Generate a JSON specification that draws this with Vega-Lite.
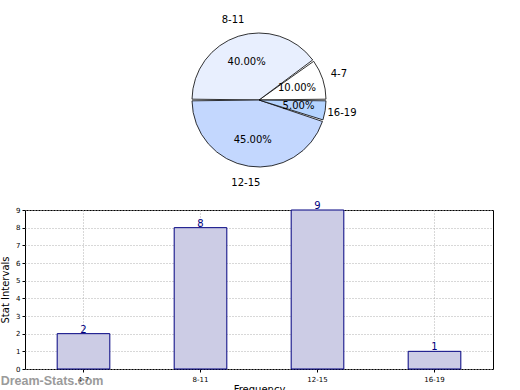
{
  "$schema": "https://vega.github.io/schema/vega-lite/v6.json",
  "padding": 0,
  "spacing": 0,
  "background": "#ffffff",
  "config": {
    "font": "DejaVu Sans",
    "view": {"stroke": null},
    "axis": {"labelFont": "DejaVu Sans", "titleFont": "DejaVu Sans", "labelColor": "#000000", "titleColor": "#000000", "tickColor": "#000000"}
  },
  "datasets": {
    "stats": [
      {"interval": "4-7", "freq": 2, "pct": 0.10, "idx": 1},
      {"interval": "8-11", "freq": 8, "pct": 0.40, "idx": 2},
      {"interval": "12-15", "freq": 9, "pct": 0.45, "idx": 3},
      {"interval": "16-19", "freq": 1, "pct": 0.05, "idx": 4}
    ]
  },
  "vconcat": [
    {
      "width": 468,
      "height": 200,
      "data": {"name": "stats"},
      "encoding": {
        "theta": {"field": "freq", "type": "quantitative", "stack": true, "scale": {"range": [1.5708, 7.854]}},
        "order": {"field": "idx", "sort": "descending"}
      },
      "layer": [
        {
          "mark": {"type": "arc", "outerRadius": 67, "padAngle": 0.025, "stroke": "#000000", "strokeWidth": 0.8},
          "encoding": {
            "color": {
              "field": "interval",
              "type": "nominal",
              "scale": {"domain": ["4-7", "8-11", "12-15", "16-19"], "range": ["#ffffff", "#e8effe", "#c3d7fe", "#b5d4ff"]},
              "legend": null
            }
          }
        },
        {
          "mark": {"type": "text", "radius": 40, "fontSize": 10, "color": "#000000"},
          "encoding": {"text": {"field": "pct", "type": "quantitative", "format": ".2%"}}
        },
        {
          "mark": {"type": "text", "radius": 84, "fontSize": 10, "color": "#000000"},
          "encoding": {"text": {"field": "interval", "type": "nominal"}}
        }
      ]
    },
    {
      "width": 468,
      "height": 159,
      "view": {"stroke": "#000000", "strokeWidth": 1},
      "data": {"name": "stats"},
      "encoding": {
        "x": {
          "field": "interval",
          "type": "nominal",
          "sort": ["4-7", "8-11", "12-15", "16-19"],
          "scale": {"paddingInner": 0.55, "paddingOuter": 0.275},
          "axis": {
            "title": "Frequency",
            "labelAngle": 0,
            "labelFontSize": 7,
            "titleFontSize": 10,
            "titleFontWeight": "normal",
            "grid": true,
            "gridDash": [1, 2],
            "gridColor": "#b0b0b0",
            "bandPosition": 0.5,
            "tickSize": 3,
            "domain": false,
            "labelPadding": 3,
            "titlePadding": 2
          }
        },
        "y": {
          "field": "freq",
          "type": "quantitative",
          "scale": {"domain": [0, 9]},
          "axis": {
            "title": "Stat Intervals",
            "values": [0, 1, 2, 3, 4, 5, 6, 7, 8, 9],
            "labelFontSize": 7,
            "titleFontSize": 10,
            "titleFontWeight": "normal",
            "grid": true,
            "gridDash": [1, 2],
            "gridColor": "#b0b0b0",
            "tickSize": 3,
            "domain": false,
            "labelPadding": 2,
            "titlePadding": 5
          }
        }
      },
      "layer": [
        {
          "mark": {"type": "bar", "fill": "#ccccE5", "stroke": "#000080", "strokeWidth": 1}
        },
        {
          "mark": {"type": "text", "baseline": "bottom", "fontSize": 10, "color": "#000080", "dy": 1},
          "encoding": {
            "text": {"field": "freq", "type": "quantitative"}
          }
        },
        {
          "data": {"values": [{"interval": "4-7", "freq": 0, "mark": "Dream-Stats.com"}]},
          "mark": {"type": "text", "font": "Liberation Sans", "fontSize": 12.5, "fontWeight": "bold", "color": "#8a8a8a", "align": "right", "baseline": "middle", "dx": 20, "dy": 12, "opacity": 0.85},
          "encoding": {
            "text": {"field": "mark", "type": "nominal"}
          }
        }
      ]
    }
  ]
}
